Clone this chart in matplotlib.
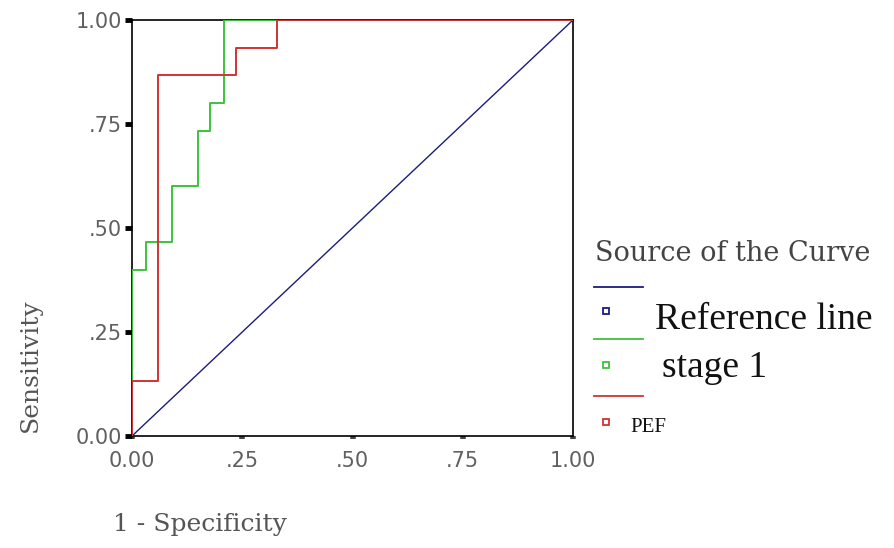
import numpy as np
import matplotlib.pyplot as plt
from matplotlib.lines import Line2D

# ROC vertices (1 - specificity, sensitivity)
ref_fpr = [0.0, 1.0]
ref_tpr = [0.0, 1.0]

stage1_fpr = [0.0, 0.0, 0.032, 0.091, 0.149, 0.177, 0.209, 1.0]
stage1_tpr = [0.0, 0.40, 0.467, 0.60, 0.733, 0.80, 1.0, 1.0]

pef_fpr = [0.0, 0.0, 0.059, 0.236, 0.328, 1.0]
pef_tpr = [0.0, 0.133, 0.867, 0.933, 1.0, 1.0]

ticks = [0.0, 0.25, 0.50, 0.75, 1.0]
tick_labels = ['0.00', '.25', '.50', '.75', '1.00']

col_ref = '#1c1c80'
col_stage = '#3cc43c'
col_pef = '#d03434'

fig = plt.figure(figsize=(8.94, 5.48), dpi=100)
ax = fig.add_axes([132/894, 1 - 436/548, 441/894, 416/548])

ax.plot(ref_fpr, ref_tpr, color=col_ref, lw=1.0, zorder=3)
ax.step(stage1_fpr, stage1_tpr, where='post', color=col_stage, lw=1.4, zorder=3)
ax.step(pef_fpr, pef_tpr, where='post', color=col_pef, lw=1.4, zorder=4)

ax.set_xlim(0, 1)
ax.set_ylim(0, 1)
ax.set_xticks(ticks)
ax.set_xticklabels(tick_labels)
ax.set_yticks(ticks)
ax.set_yticklabels(tick_labels)
for s in ax.spines.values():
    s.set_color('black')
    s.set_linewidth(1.2)
    s.set_zorder(2)
ax.tick_params(axis='y', direction='out', length=5, width=3.5, color='black',
               labelsize=15, labelcolor='#606060', pad=2)
ax.tick_params(axis='x', direction='out', length=2, width=4, color='#444444',
               labelsize=15, labelcolor='#606060', pad=9)
for lab in ax.get_xticklabels() + ax.get_yticklabels():
    lab.set_family('DejaVu Sans')

fig.text(30/894, 1 - 365/548, 'Sensitivity', rotation=90, ha='center', va='center',
         fontsize=18, color='#555555', family='DejaVu Serif')
fig.text(113/894, 1 - 525/548, '1 - Specificity', ha='left', va='center',
         fontsize=18, color='#555555', family='DejaVu Serif')

# legend drawn by hand to follow the original layout
fig.text(595/894, 1 - 254/548, 'Source of the Curve', ha='left', va='center',
         fontsize=19.5, color='#444444', family='DejaVu Serif')
entries = [(col_ref, 'Reference line', 287, 311, 320, 655, 27),
           (col_stage, 'stage 1', 339, 365, 368, 662, 27),
           (col_pef, 'PEF', 396, 422, 427, 630, 15)]
for col, lab, ly, my, ty, tx, fs in entries:
    fig.add_artist(Line2D([594/894, 643/894], [1 - ly/548, 1 - ly/548],
                          color=col, lw=1.3, transform=fig.transFigure))
    fig.add_artist(Line2D([606/894], [1 - my/548], marker='s', ms=4.5,
                          mfc='white', mec=col, mew=1.3, ls='none',
                          transform=fig.transFigure))
    fig.text(tx/894, 1 - ty/548, lab, ha='left', va='center', fontsize=fs,
             color='#111111', family='Liberation Serif')

plt.savefig('out.png', dpi=100)
plt.close()
